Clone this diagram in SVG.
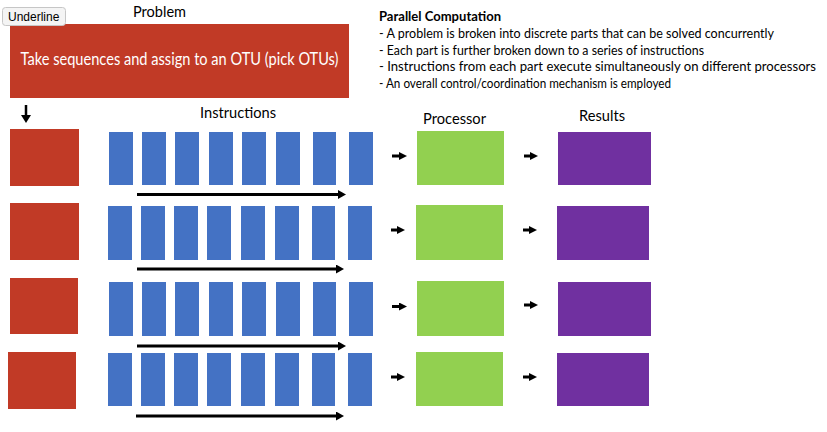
<svg xmlns="http://www.w3.org/2000/svg" width="827" height="432" viewBox="0 0 827 432">
<style>
.red{fill:#C13A26}
.blue{fill:#4472C4}
.green{fill:#92D050}
.purple{fill:#7030A0}
.lbl{font-family:Lato,"Liberation Sans",sans-serif;font-size:15.5px;fill:#000}
.info{font-family:Lato,"Liberation Sans",sans-serif;font-size:13px;fill:#000}
.conn{stroke:#000;fill:none}
.btn{fill:#F4F4F4;stroke:#C6C6C6;stroke-width:1}
.btntxt{font-family:"Liberation Sans",Arial,sans-serif;font-size:12px;fill:#000}
</style>
<defs>
<marker id="headL" viewBox="0 0 8 9" refX="0" refY="4.5" markerWidth="8" markerHeight="9" markerUnits="userSpaceOnUse" orient="auto"><path d="M0,0 L8,4.5 L0,9 Z" fill="#000"/></marker>
<marker id="headS" viewBox="0 0 8 8" refX="0" refY="4" markerWidth="8" markerHeight="8" markerUnits="userSpaceOnUse" orient="auto"><path d="M0,0 L8,4 L0,8 Z" fill="#000"/></marker>
<marker id="headD" viewBox="0 0 8 10" refX="0" refY="5" markerWidth="8" markerHeight="10" markerUnits="userSpaceOnUse" orient="auto"><path d="M0,0 L8,5 L0,10 Z" fill="#000"/></marker>
</defs>
<rect width="827" height="432" fill="#fff"/>

<g id="problem">
<rect class="red" x="10" y="24" width="339" height="74"/>
<text x="179.5" y="65" text-anchor="middle" font-family="Lato,'Liberation Sans',sans-serif" font-size="16.5" fill="#fff" textLength="318" lengthAdjust="spacingAndGlyphs">Take sequences and assign to an OTU (pick OTUs)</text>
</g>
<g id="underline-button">
<rect class="btn" x="2.5" y="7.5" width="63" height="18" rx="3"/>
<text class="btntxt" x="8" y="20.5">Underline</text>
</g>

<g id="labels">
<text class="lbl" x="133" y="17" textLength="53" lengthAdjust="spacingAndGlyphs">Problem</text>
<text class="lbl" x="200" y="118" textLength="76" lengthAdjust="spacingAndGlyphs">Instructions</text>
<text class="lbl" x="423" y="124" textLength="63" lengthAdjust="spacingAndGlyphs">Processor</text>
<text class="lbl" x="579" y="121" textLength="46" lengthAdjust="spacingAndGlyphs">Results</text>
</g>

<g id="info">
<text class="info" x="379" y="21" font-weight="bold" textLength="122" lengthAdjust="spacingAndGlyphs">Parallel Computation</text>
<text class="info" x="379" y="37.8" textLength="395" lengthAdjust="spacingAndGlyphs">- A problem is broken into discrete parts that can be solved concurrently</text>
<text class="info" x="379" y="54.6" textLength="325" lengthAdjust="spacingAndGlyphs">- Each part is further broken down to a series of instructions</text>
<text class="info" x="379" y="71.4" textLength="437" lengthAdjust="spacingAndGlyphs">- Instructions from each part execute simultaneously on different processors</text>
<text class="info" x="379" y="88.2" textLength="292" lengthAdjust="spacingAndGlyphs">- An overall control/coordination mechanism is employed</text>
</g>

<!-- Row 1 -->
<g id="part-1"><rect class="red" x="10" y="129" width="69" height="57"/></g>
<g id="instr-1-1"><rect class="blue" x="109" y="132" width="24" height="53"/></g>
<g id="instr-1-2"><rect class="blue" x="142" y="132" width="24" height="53"/></g>
<g id="instr-1-3"><rect class="blue" x="175" y="132" width="24" height="53"/></g>
<g id="instr-1-4"><rect class="blue" x="209" y="132" width="24" height="53"/></g>
<g id="instr-1-5"><rect class="blue" x="242" y="132" width="24" height="53"/></g>
<g id="instr-1-6"><rect class="blue" x="276" y="132" width="24" height="53"/></g>
<g id="instr-1-7"><rect class="blue" x="313" y="132" width="23" height="53"/></g>
<g id="instr-1-8"><rect class="blue" x="349" y="132" width="24" height="53"/></g>
<g id="processor-1"><rect class="green" x="417" y="131" width="87" height="54"/></g>
<g id="result-1"><rect class="purple" x="558" y="132" width="93" height="53"/></g>

<!-- Row 2 -->
<g id="part-2"><rect class="red" x="10" y="203" width="69" height="57"/></g>
<g id="instr-2-1"><rect class="blue" x="108" y="206" width="24" height="54"/></g>
<g id="instr-2-2"><rect class="blue" x="141" y="206" width="24" height="54"/></g>
<g id="instr-2-3"><rect class="blue" x="174" y="206" width="24" height="54"/></g>
<g id="instr-2-4"><rect class="blue" x="207" y="206" width="24" height="54"/></g>
<g id="instr-2-5"><rect class="blue" x="241" y="206" width="24" height="54"/></g>
<g id="instr-2-6"><rect class="blue" x="275" y="206" width="24" height="54"/></g>
<g id="instr-2-7"><rect class="blue" x="312" y="206" width="23" height="54"/></g>
<g id="instr-2-8"><rect class="blue" x="348" y="206" width="24" height="54"/></g>
<g id="processor-2"><rect class="green" x="416" y="205" width="87" height="55"/></g>
<g id="result-2"><rect class="purple" x="557" y="206" width="92" height="54"/></g>

<!-- Row 3 -->
<g id="part-3"><rect class="red" x="10" y="278" width="68" height="56"/></g>
<g id="instr-3-1"><rect class="blue" x="109" y="282" width="24" height="54"/></g>
<g id="instr-3-2"><rect class="blue" x="142" y="282" width="24" height="54"/></g>
<g id="instr-3-3"><rect class="blue" x="175" y="282" width="24" height="54"/></g>
<g id="instr-3-4"><rect class="blue" x="209" y="282" width="24" height="54"/></g>
<g id="instr-3-5"><rect class="blue" x="242" y="282" width="24" height="54"/></g>
<g id="instr-3-6"><rect class="blue" x="276" y="282" width="24" height="54"/></g>
<g id="instr-3-7"><rect class="blue" x="313" y="282" width="23" height="54"/></g>
<g id="instr-3-8"><rect class="blue" x="349" y="282" width="24" height="54"/></g>
<g id="processor-3"><rect class="green" x="417" y="281" width="87" height="55"/></g>
<g id="result-3"><rect class="purple" x="558" y="282" width="93" height="54"/></g>

<!-- Row 4 -->
<g id="part-4"><rect class="red" x="8" y="352" width="68" height="57"/></g>
<g id="instr-4-1"><rect class="blue" x="108" y="353" width="24" height="53"/></g>
<g id="instr-4-2"><rect class="blue" x="141" y="353" width="24" height="53"/></g>
<g id="instr-4-3"><rect class="blue" x="174" y="353" width="24" height="53"/></g>
<g id="instr-4-4"><rect class="blue" x="207" y="353" width="24" height="53"/></g>
<g id="instr-4-5"><rect class="blue" x="241" y="353" width="24" height="53"/></g>
<g id="instr-4-6"><rect class="blue" x="275" y="353" width="24" height="53"/></g>
<g id="instr-4-7"><rect class="blue" x="312" y="353" width="23" height="53"/></g>
<g id="instr-4-8"><rect class="blue" x="348" y="353" width="24" height="53"/></g>
<g id="processor-4"><rect class="green" x="416" y="352" width="87" height="54"/></g>
<g id="result-4"><rect class="purple" x="557" y="353" width="92" height="53"/></g>

<g id="connectors" class="conn">
<line x1="26" y1="105" x2="26" y2="115" stroke-width="2.5" marker-end="url(#headD)"/>
<line x1="137" y1="194.5" x2="338" y2="194.5" stroke-width="3" marker-end="url(#headL)"/>
<line x1="137" y1="269" x2="336" y2="269" stroke-width="3" marker-end="url(#headL)"/>
<line x1="137" y1="346" x2="338" y2="346" stroke-width="3" marker-end="url(#headL)"/>
<line x1="136" y1="416" x2="336" y2="416" stroke-width="3" marker-end="url(#headL)"/>
<line x1="392" y1="156" x2="399" y2="156" stroke-width="3" marker-end="url(#headS)"/>
<line x1="524" y1="156" x2="530" y2="156" stroke-width="3" marker-end="url(#headS)"/>
<line x1="391" y1="230" x2="397" y2="230" stroke-width="3" marker-end="url(#headS)"/>
<line x1="523" y1="230" x2="529" y2="230" stroke-width="3" marker-end="url(#headS)"/>
<line x1="392" y1="306.5" x2="399" y2="306.5" stroke-width="3" marker-end="url(#headS)"/>
<line x1="524" y1="305" x2="530" y2="305" stroke-width="3" marker-end="url(#headS)"/>
<line x1="391" y1="377" x2="397" y2="377" stroke-width="3" marker-end="url(#headS)"/>
<line x1="523" y1="377" x2="529" y2="377" stroke-width="3" marker-end="url(#headS)"/>
</g>
</svg>
